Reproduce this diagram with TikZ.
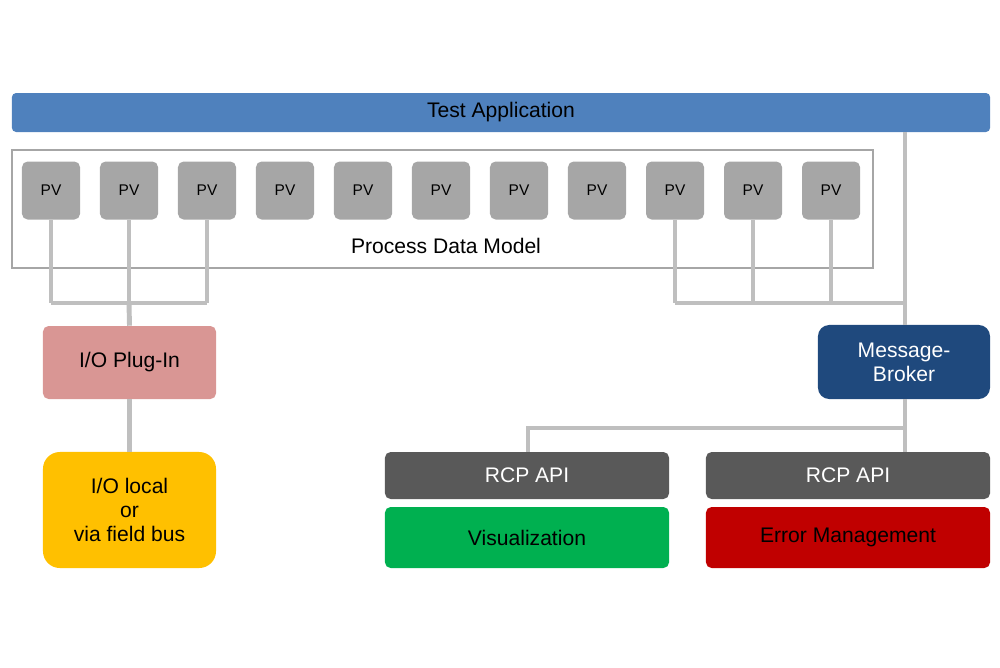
\documentclass[tikz,border=0pt]{standalone}
\usepackage{fontspec}
\setmainfont{Liberation Sans}
\definecolor{appblue}{HTML}{4F81BD}
\definecolor{pvgray}{HTML}{A6A6A6}
\definecolor{linegray}{HTML}{BFBFBF}
\definecolor{plugred}{HTML}{D99694}
\definecolor{ioyellow}{HTML}{FFC000}
\definecolor{brokerblue}{HTML}{1F497D}
\definecolor{apigray}{HTML}{595959}
\definecolor{visgreen}{HTML}{00B050}
\definecolor{errred}{HTML}{C00000}
\begin{document}
\begin{tikzpicture}[x=0.025cm,y=-0.025cm,
	box/.style={draw=none,rounded corners=4pt,inner sep=0pt,align=center,font=\fontsize{15}{17}\selectfont},
	pv/.style={box,fill=pvgray,minimum width=1.45cm,minimum height=1.45cm,font=\fontsize{11}{13}\selectfont},
	wire/.style={draw=linegray,line width=3.5pt}]
	\useasboundingbox (0,0) rectangle (1000,667);

	% connectors first
	\foreach \i/\x in {1/51,2/129,3/207,4/285,5/363,6/441,7/519,8/597,9/675,10/753,11/831}
		\coordinate (c\i) at (\x,303);
	\coordinate (jr) at (905,303);
	\coordinate (jb) at (905,428);
	\coordinate (jl) at (528,428);

	\node[box,fill=appblue,rounded corners=3pt,minimum width=24.45cm,minimum height=0.975cm] (app) at (501,112.5) {Test Application};
	\draw[draw=pvgray,line width=1.8pt] (12,150) rectangle (873,268);
	\foreach \i/\x in {1/51,2/129,3/207,4/285,5/363,6/441,7/519,8/597,9/675,10/753,11/831}
		\node[pv] (pv\i) at (\x,190.5) {PV};
	\node[font=\fontsize{15}{17}\selectfont] (pdm) at (446,246) {Process Data Model};

	\node[box,fill=plugred,minimum width=4.325cm,minimum height=1.825cm] (plug) at (129.5,362.5) {I/O Plug-In};
	\node[box,fill=ioyellow,rounded corners=12pt,minimum width=4.325cm,minimum height=2.9cm] (io) at (129.5,510) {I/O local\\or\\via field bus};
	\node[box,fill=brokerblue,text=white,rounded corners=8pt,minimum width=4.3cm,minimum height=1.85cm] (broker) at (904,362) {Message-\\Broker};
	\node[box,fill=apigray,text=white,minimum width=7.1cm,minimum height=1.175cm] (apil) at (527,475.5) {RCP API};
	\node[box,fill=visgreen,minimum width=7.1cm,minimum height=1.525cm] (vis) at (527,537.5) {Visualization};
	\node[box,fill=apigray,text=white,minimum width=7.1cm,minimum height=1.175cm] (apir) at (848,475.5) {RCP API};
	\node[box,fill=errred,minimum width=7.1cm,minimum height=1.525cm] (err) at (848,537.5) {Error Management};

	\begin{scope}[on background layer/.style={}]
	\end{scope}
	\foreach \i in {1,2,3,9,10,11}
		\draw[wire] (pv\i.south) -- (c\i);
	\draw[wire] (c1) -- (c3);
	\draw[wire] (c9) -- (jr);
	\draw[wire] (c2) -- (plug.north);
	\draw[wire] (plug.south) -- (io.north);
	\draw[wire] (app.south -| jr) -- (broker.north -| jr);
	\draw[wire] (broker.south -| jb) -- (apir.north -| jb);
	\draw[wire] (jb) -- (jl) -- (apil.north -| jl);
\end{tikzpicture}
\end{document}
